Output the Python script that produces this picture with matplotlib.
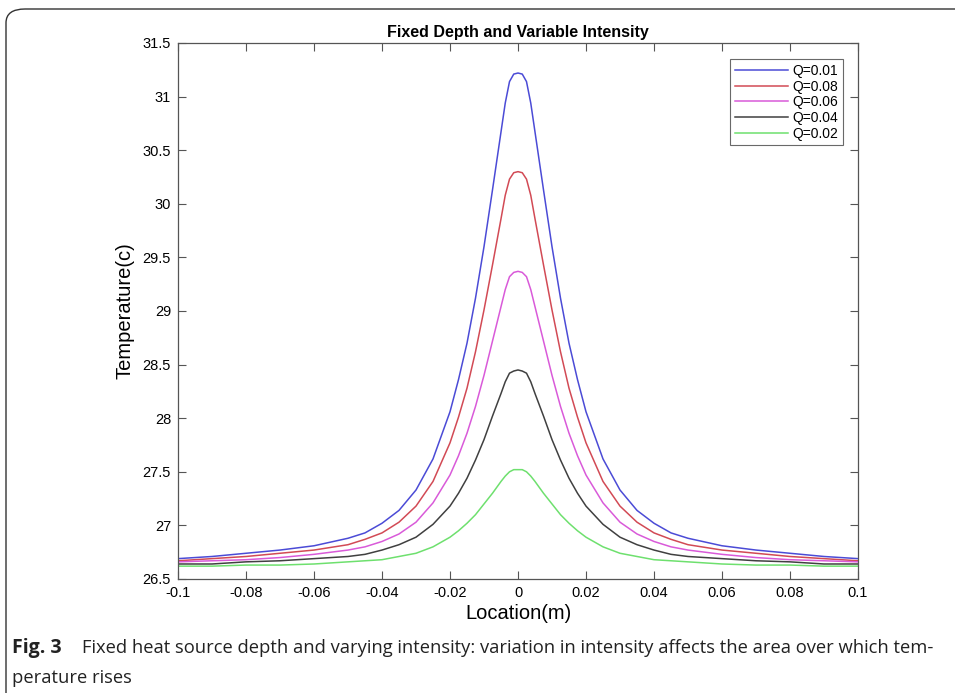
import matplotlib
matplotlib.use("Agg")
import matplotlib.pyplot as plt
from matplotlib.patches import FancyBboxPatch

plt.rcParams['font.family'] = ['Liberation Sans', 'DejaVu Sans']

location = [-0.1, -0.09, -0.08, -0.07, -0.06, -0.05, -0.045, -0.04, -0.035, -0.03,
            -0.025, -0.02, -0.0175, -0.015, -0.0125, -0.01, -0.0075, -0.005,
            -0.00375, -0.0025, -0.00125, 0.0,
            0.00125, 0.0025, 0.00375, 0.005, 0.0075, 0.01, 0.0125, 0.015, 0.0175,
            0.02, 0.025, 0.03, 0.035, 0.04, 0.045, 0.05, 0.06, 0.07, 0.08, 0.09, 0.1]

temp_q001 = [26.69, 26.71, 26.74, 26.77, 26.81, 26.88, 26.93, 27.02, 27.14, 27.33,
             27.62, 28.06, 28.36, 28.70, 29.12, 29.60, 30.13, 30.67,
             30.94, 31.14, 31.21, 31.22,
             31.21, 31.14, 30.94, 30.67, 30.13, 29.60, 29.12, 28.70, 28.36,
             28.06, 27.62, 27.33, 27.14, 27.02, 26.93, 26.88, 26.81, 26.77, 26.74, 26.71, 26.69]
temp_q008 = [26.67, 26.69, 26.71, 26.74, 26.77, 26.82, 26.87, 26.93, 27.03, 27.18,
             27.41, 27.77, 28.01, 28.28, 28.62, 29.01, 29.43, 29.86,
             30.08, 30.23, 30.29, 30.30,
             30.29, 30.23, 30.08, 29.86, 29.43, 29.01, 28.62, 28.28, 28.01,
             27.77, 27.41, 27.18, 27.03, 26.93, 26.87, 26.82, 26.77, 26.74, 26.71, 26.69, 26.67]
temp_q006 = [26.66, 26.67, 26.68, 26.70, 26.73, 26.77, 26.80, 26.85, 26.92, 27.03,
             27.21, 27.47, 27.65, 27.86, 28.11, 28.40, 28.72, 29.04,
             29.20, 29.32, 29.36, 29.37,
             29.36, 29.32, 29.20, 29.04, 28.72, 28.40, 28.11, 27.86, 27.65,
             27.47, 27.21, 27.03, 26.92, 26.85, 26.80, 26.77, 26.73, 26.70, 26.68, 26.67, 26.66]
temp_q004 = [26.64, 26.64, 26.66, 26.67, 26.69, 26.71, 26.73, 26.77, 26.82, 26.89,
             27.01, 27.18, 27.30, 27.44, 27.61, 27.80, 28.02, 28.23,
             28.34, 28.42, 28.44, 28.45,
             28.44, 28.42, 28.34, 28.23, 28.02, 27.80, 27.61, 27.44, 27.30,
             27.18, 27.01, 26.89, 26.82, 26.77, 26.73, 26.71, 26.69, 26.67, 26.66, 26.64, 26.64]
temp_q002 = [26.62, 26.62, 26.63, 26.63, 26.64, 26.66, 26.67, 26.68, 26.71, 26.74,
             26.80, 26.89, 26.95, 27.02, 27.10, 27.20, 27.30, 27.41,
             27.46, 27.50, 27.52, 27.52,
             27.52, 27.50, 27.46, 27.41, 27.30, 27.20, 27.10, 27.02, 26.95,
             26.89, 26.80, 26.74, 26.71, 26.68, 26.67, 26.66, 26.64, 26.63, 26.63, 26.62, 26.62]

series_labels = ['Q=0.01', 'Q=0.08', 'Q=0.06', 'Q=0.04', 'Q=0.02']
series_values = [temp_q001, temp_q008, temp_q006, temp_q004, temp_q002]
series_colors = ['#4b4bd6', '#d24a55', '#d95ad9', '#404040', '#6ee06e']

x_ticks = [-0.1, -0.08, -0.06, -0.04, -0.02, 0, 0.02, 0.04, 0.06, 0.08, 0.1]
x_tick_labels = ['-0.1', '-0.08', '-0.06', '-0.04', '-0.02', '0', '0.02', '0.04', '0.06', '0.08', '0.1']
y_ticks = [26.5, 27, 27.5, 28, 28.5, 29, 29.5, 30, 30.5, 31, 31.5]
y_tick_labels = ['26.5', '27', '27.5', '28', '28.5', '29', '29.5', '30', '30.5', '31', '31.5']

fig = plt.figure(figsize=(9.55, 6.93), dpi=100)

# outer rounded frame
frame = FancyBboxPatch((6 / 955, -0.2), 1.2, 1 - 9 / 693 + 0.2,
                       boxstyle="round,pad=0,rounding_size=0.02",
                       transform=fig.transFigure, facecolor='none',
                       edgecolor='#333333', linewidth=1.0, clip_on=False)
fig.patches.append(frame)

ax = fig.add_axes([178 / 955, 1 - 579 / 693, 680 / 955, 536 / 693])
for vals, lab, col in zip(series_values, series_labels, series_colors):
    ax.plot(location, vals, color=col, linewidth=1.1, label=lab)

ax.set_xlim(-0.1, 0.1)
ax.set_ylim(26.5, 31.5)
ax.set_xticks(x_ticks)
ax.set_xticklabels(x_tick_labels)
ax.set_yticks(y_ticks)
ax.set_yticklabels(y_tick_labels)
ax.tick_params(direction='in', length=6, width=0.8, top=True, right=True,
               labelsize=10.5, colors='#555555', labelcolor='black', pad=5)
for sp in ax.spines.values():
    sp.set_color('#555555')
    sp.set_linewidth(0.9)

ax.set_title('Fixed Depth and Variable Intensity', fontsize=11.5,
             fontweight='bold', pad=4)
ax.set_xlabel('Location(m)', fontsize=14.5, labelpad=3)
ax.set_ylabel('Temperature(c)', fontsize=14.5, labelpad=6)

leg = ax.legend(loc='upper right', bbox_to_anchor=(0.978, 0.97), fontsize=10,
                frameon=True, fancybox=False, edgecolor='#444444',
                handlelength=3.8, handletextpad=0.3, labelspacing=0.12,
                borderpad=0.35, borderaxespad=0)
leg.get_frame().set_linewidth(0.8)

cap_color = '#222222'
cap_family = ['Open Sans', 'DejaVu Sans']
fig.text(12 / 955, 1 - 648 / 693, 'Fig. 3', fontsize=14, fontweight='bold',
         color=cap_color, family=cap_family, va='center')
fig.text(82 / 955, 1 - 648 / 693,
         'Fixed heat source depth and varying intensity: variation in intensity affects the area over which tem-',
         fontsize=13.2, color=cap_color, family=cap_family, va='center')
fig.text(12 / 955, 1 - 678 / 693, 'perature rises', fontsize=13.2, color=cap_color,
         family=cap_family, va='center')

fig.savefig('out.png', dpi=100)
